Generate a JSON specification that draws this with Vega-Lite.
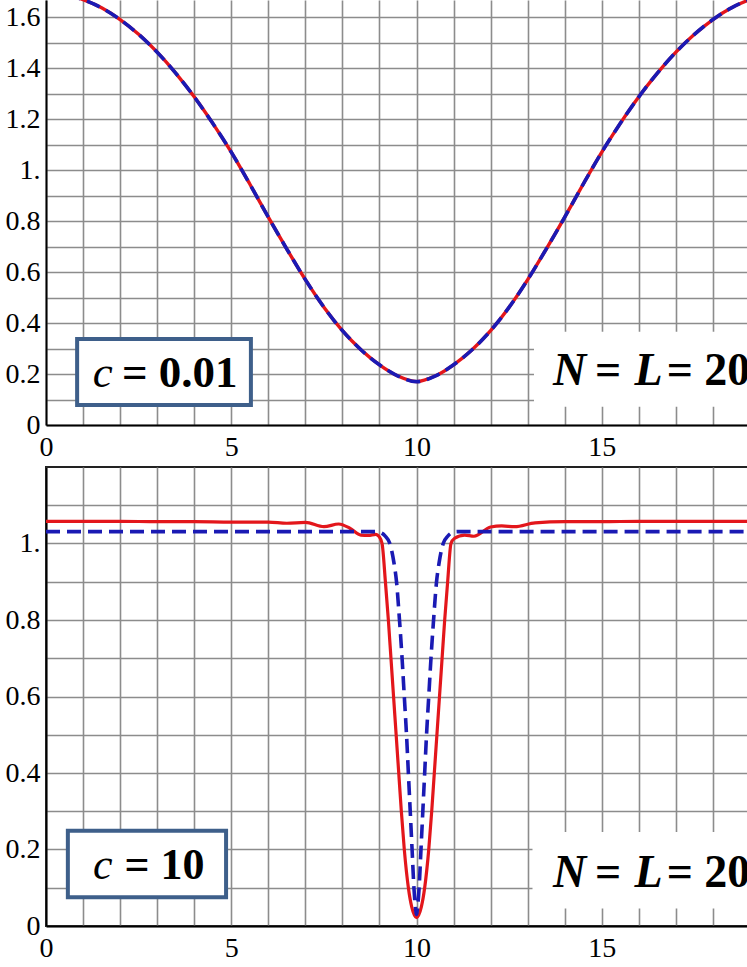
{
  "$schema": "https://vega.github.io/schema/vega-lite/v6.json",
  "padding": {"left": 4, "top": 0, "right": 0, "bottom": 0},
  "background": "white",
  "spacing": 42,
  "bounds": "flush",
  "config": {
    "font": "Liberation Serif",
    "view": {"stroke": null},
    "axis": {"grid": true, "ticks": false, "domain": true, "domainColor": "black", "domainWidth": 2, "gridColor": "#8c8c8c", "gridWidth": 1.6, "labelFont": "Liberation Serif", "labelFontSize": 28, "labelColor": "black", "labelOverlap": false, "labelFlush": false}
  },
  "datasets": {
    "top": [
      {"x": 0, "y": 1.695, "s": "red"}, {"x": 0.5, "y": 1.688, "s": "red"}, {"x": 1, "y": 1.668, "s": "red"}, {"x": 1.5, "y": 1.636, "s": "red"},
      {"x": 2, "y": 1.59, "s": "red"}, {"x": 2.5, "y": 1.532, "s": "red"}, {"x": 3, "y": 1.462, "s": "red"}, {"x": 3.5, "y": 1.38, "s": "red"},
      {"x": 4, "y": 1.287, "s": "red"}, {"x": 4.5, "y": 1.183, "s": "red"}, {"x": 5, "y": 1.07, "s": "red"}, {"x": 5.5, "y": 0.945, "s": "red"},
      {"x": 6, "y": 0.815, "s": "red"}, {"x": 6.5, "y": 0.69, "s": "red"}, {"x": 7, "y": 0.57, "s": "red"}, {"x": 7.5, "y": 0.462, "s": "red"},
      {"x": 8, "y": 0.37, "s": "red"}, {"x": 8.5, "y": 0.295, "s": "red"}, {"x": 9, "y": 0.236, "s": "red"}, {"x": 9.5, "y": 0.192, "s": "red"},
      {"x": 10, "y": 0.17, "s": "red"}, {"x": 10.5, "y": 0.192, "s": "red"}, {"x": 11, "y": 0.236, "s": "red"}, {"x": 11.5, "y": 0.295, "s": "red"},
      {"x": 12, "y": 0.37, "s": "red"}, {"x": 12.5, "y": 0.462, "s": "red"}, {"x": 13, "y": 0.57, "s": "red"}, {"x": 13.5, "y": 0.69, "s": "red"},
      {"x": 14, "y": 0.815, "s": "red"}, {"x": 14.5, "y": 0.945, "s": "red"}, {"x": 15, "y": 1.07, "s": "red"}, {"x": 15.5, "y": 1.183, "s": "red"},
      {"x": 16, "y": 1.287, "s": "red"}, {"x": 16.5, "y": 1.38, "s": "red"}, {"x": 17, "y": 1.462, "s": "red"}, {"x": 17.5, "y": 1.532, "s": "red"},
      {"x": 18, "y": 1.59, "s": "red"}, {"x": 18.5, "y": 1.636, "s": "red"}, {"x": 19, "y": 1.668, "s": "red"}, {"x": 19.5, "y": 1.688, "s": "red"},
      {"x": 20, "y": 1.695, "s": "red"},
      {"x": 0, "y": 1.695, "s": "blue"}, {"x": 0.5, "y": 1.688, "s": "blue"}, {"x": 1, "y": 1.668, "s": "blue"}, {"x": 1.5, "y": 1.636, "s": "blue"},
      {"x": 2, "y": 1.59, "s": "blue"}, {"x": 2.5, "y": 1.532, "s": "blue"}, {"x": 3, "y": 1.462, "s": "blue"}, {"x": 3.5, "y": 1.38, "s": "blue"},
      {"x": 4, "y": 1.287, "s": "blue"}, {"x": 4.5, "y": 1.183, "s": "blue"}, {"x": 5, "y": 1.07, "s": "blue"}, {"x": 5.5, "y": 0.945, "s": "blue"},
      {"x": 6, "y": 0.815, "s": "blue"}, {"x": 6.5, "y": 0.69, "s": "blue"}, {"x": 7, "y": 0.57, "s": "blue"}, {"x": 7.5, "y": 0.462, "s": "blue"},
      {"x": 8, "y": 0.37, "s": "blue"}, {"x": 8.5, "y": 0.295, "s": "blue"}, {"x": 9, "y": 0.236, "s": "blue"}, {"x": 9.5, "y": 0.192, "s": "blue"},
      {"x": 10, "y": 0.17, "s": "blue"}, {"x": 10.5, "y": 0.192, "s": "blue"}, {"x": 11, "y": 0.236, "s": "blue"}, {"x": 11.5, "y": 0.295, "s": "blue"},
      {"x": 12, "y": 0.37, "s": "blue"}, {"x": 12.5, "y": 0.462, "s": "blue"}, {"x": 13, "y": 0.57, "s": "blue"}, {"x": 13.5, "y": 0.69, "s": "blue"},
      {"x": 14, "y": 0.815, "s": "blue"}, {"x": 14.5, "y": 0.945, "s": "blue"}, {"x": 15, "y": 1.07, "s": "blue"}, {"x": 15.5, "y": 1.183, "s": "blue"},
      {"x": 16, "y": 1.287, "s": "blue"}, {"x": 16.5, "y": 1.38, "s": "blue"}, {"x": 17, "y": 1.462, "s": "blue"}, {"x": 17.5, "y": 1.532, "s": "blue"},
      {"x": 18, "y": 1.59, "s": "blue"}, {"x": 18.5, "y": 1.636, "s": "blue"}, {"x": 19, "y": 1.668, "s": "blue"}, {"x": 19.5, "y": 1.688, "s": "blue"},
      {"x": 20, "y": 1.695, "s": "blue"}
    ],
    "bottom": [
      {"x": 0, "y": 1.058, "s": "red"}, {"x": 1, "y": 1.058, "s": "red"}, {"x": 2, "y": 1.058, "s": "red"}, {"x": 3, "y": 1.057, "s": "red"},
      {"x": 4, "y": 1.057, "s": "red"}, {"x": 5, "y": 1.056, "s": "red"}, {"x": 6, "y": 1.056, "s": "red"}, {"x": 6.5, "y": 1.053, "s": "red"},
      {"x": 7, "y": 1.055, "s": "red"}, {"x": 7.5, "y": 1.044, "s": "red"}, {"x": 7.9, "y": 1.051, "s": "red"}, {"x": 8.2, "y": 1.04, "s": "red"},
      {"x": 8.5, "y": 1.022, "s": "red"}, {"x": 8.7, "y": 1.021, "s": "red"}, {"x": 8.9, "y": 1.024, "s": "red"}, {"x": 8.99, "y": 1.018, "s": "red"},
      {"x": 9.07, "y": 1.0, "s": "red"}, {"x": 9.16, "y": 0.9, "s": "red"}, {"x": 9.24, "y": 0.8, "s": "red"}, {"x": 9.31, "y": 0.7, "s": "red"},
      {"x": 9.38, "y": 0.6, "s": "red"}, {"x": 9.45, "y": 0.5, "s": "red"}, {"x": 9.52, "y": 0.4, "s": "red"}, {"x": 9.59, "y": 0.3, "s": "red"},
      {"x": 9.67, "y": 0.2, "s": "red"}, {"x": 9.78, "y": 0.1, "s": "red"}, {"x": 9.87, "y": 0.05, "s": "red"}, {"x": 10, "y": 0.022, "s": "red"},
      {"x": 10.13, "y": 0.05, "s": "red"}, {"x": 10.22, "y": 0.1, "s": "red"}, {"x": 10.33, "y": 0.2, "s": "red"}, {"x": 10.41, "y": 0.3, "s": "red"},
      {"x": 10.48, "y": 0.4, "s": "red"}, {"x": 10.55, "y": 0.5, "s": "red"}, {"x": 10.62, "y": 0.6, "s": "red"}, {"x": 10.69, "y": 0.7, "s": "red"},
      {"x": 10.76, "y": 0.8, "s": "red"}, {"x": 10.84, "y": 0.9, "s": "red"}, {"x": 10.93, "y": 1.0, "s": "red"}, {"x": 11.02, "y": 1.013, "s": "red"},
      {"x": 11.3, "y": 1.022, "s": "red"}, {"x": 11.55, "y": 1.019, "s": "red"}, {"x": 12.0, "y": 1.043, "s": "red"}, {"x": 12.3, "y": 1.046, "s": "red"},
      {"x": 12.65, "y": 1.044, "s": "red"}, {"x": 13.2, "y": 1.054, "s": "red"}, {"x": 14, "y": 1.057, "s": "red"}, {"x": 15, "y": 1.057, "s": "red"},
      {"x": 16, "y": 1.058, "s": "red"}, {"x": 17, "y": 1.058, "s": "red"}, {"x": 18, "y": 1.058, "s": "red"}, {"x": 19, "y": 1.058, "s": "red"},
      {"x": 20, "y": 1.058, "s": "red"},
      {"x": 0, "y": 1.031, "s": "blue"}, {"x": 2, "y": 1.031, "s": "blue"}, {"x": 4, "y": 1.031, "s": "blue"}, {"x": 6, "y": 1.031, "s": "blue"},
      {"x": 8, "y": 1.031, "s": "blue"}, {"x": 8.9, "y": 1.031, "s": "blue"}, {"x": 9.02, "y": 1.029, "s": "blue"}, {"x": 9.15, "y": 1.02, "s": "blue"},
      {"x": 9.28, "y": 1.0, "s": "blue"}, {"x": 9.39, "y": 0.95, "s": "blue"}, {"x": 9.46, "y": 0.9, "s": "blue"}, {"x": 9.54, "y": 0.8, "s": "blue"},
      {"x": 9.61, "y": 0.7, "s": "blue"}, {"x": 9.67, "y": 0.6, "s": "blue"}, {"x": 9.73, "y": 0.5, "s": "blue"}, {"x": 9.78, "y": 0.4, "s": "blue"},
      {"x": 9.83, "y": 0.3, "s": "blue"}, {"x": 9.88, "y": 0.2, "s": "blue"}, {"x": 9.93, "y": 0.1, "s": "blue"}, {"x": 9.97, "y": 0.05, "s": "blue"},
      {"x": 10, "y": 0.03, "s": "blue"}, {"x": 10.03, "y": 0.05, "s": "blue"}, {"x": 10.07, "y": 0.1, "s": "blue"}, {"x": 10.12, "y": 0.2, "s": "blue"},
      {"x": 10.17, "y": 0.3, "s": "blue"}, {"x": 10.22, "y": 0.4, "s": "blue"}, {"x": 10.27, "y": 0.5, "s": "blue"}, {"x": 10.33, "y": 0.6, "s": "blue"},
      {"x": 10.39, "y": 0.7, "s": "blue"}, {"x": 10.46, "y": 0.8, "s": "blue"}, {"x": 10.54, "y": 0.9, "s": "blue"}, {"x": 10.61, "y": 0.95, "s": "blue"},
      {"x": 10.72, "y": 1.0, "s": "blue"}, {"x": 10.85, "y": 1.02, "s": "blue"}, {"x": 10.98, "y": 1.029, "s": "blue"}, {"x": 11.1, "y": 1.031, "s": "blue"},
      {"x": 12, "y": 1.031, "s": "blue"}, {"x": 14, "y": 1.031, "s": "blue"}, {"x": 16, "y": 1.031, "s": "blue"}, {"x": 18, "y": 1.031, "s": "blue"},
      {"x": 20, "y": 1.031, "s": "blue"}
    ]
  },
  "vconcat": [
    {
      "width": 704,
      "height": 425,
      "view": {"stroke": null},
      "data": {"values": [{}]},
      "layer": [
        {
          "mark": {"type": "rect", "fill": "white", "clip": true},
          "encoding": {
            "x": {"datum": 13.17, "type": "quantitative", "scale": {"domain": [0, 19], "nice": false, "zero": false},
              "axis": {"title": null, "labelFont": "Liberation Serif", "labelPadding": 8, "values": [0,1,2,3,4,5,6,7,8,9,10,11,12,13,14,15,16,17,18,19], "labelExpr": "datum.value % 5 == 0 ? datum.label : ''"}},
            "x2": {"datum": 19.5},
            "y": {"datum": 0.072, "type": "quantitative", "scale": {"domain": [0, 1.6667], "nice": false, "zero": false},
              "axis": {"title": null, "labelFont": "Liberation Serif", "labelPadding": 6, "values": [0,0.1,0.2,0.3,0.4,0.5,0.6,0.7,0.8,0.9,1,1.1,1.2,1.3,1.4,1.5,1.6], "labelExpr": "datum.value == 0 ? '0' : datum.value == 1 ? '1.' : (round(datum.value * 10) % 2 == 0 ? format(datum.value, '.1f') : '')"}},
            "y2": {"datum": 0.366}
          }
        },
        {
          "data": {"name": "top"},
          "transform": [{"filter": "datum.s == 'red'"}],
          "mark": {"type": "line", "color": "#e3161b", "strokeWidth": 3.4, "interpolate": "monotone", "clip": true},
          "encoding": {
            "x": {"field": "x", "type": "quantitative", "scale": {"domain": [0, 19], "nice": false, "zero": false},
              "axis": {"title": null, "labelFont": "Liberation Serif", "labelPadding": 8, "values": [0,1,2,3,4,5,6,7,8,9,10,11,12,13,14,15,16,17,18,19], "labelExpr": "datum.value % 5 == 0 ? datum.label : ''"}},
            "y": {"field": "y", "type": "quantitative", "scale": {"domain": [0, 1.6667], "nice": false, "zero": false},
              "axis": {"title": null, "labelFont": "Liberation Serif", "labelPadding": 6, "values": [0,0.1,0.2,0.3,0.4,0.5,0.6,0.7,0.8,0.9,1,1.1,1.2,1.3,1.4,1.5,1.6], "labelExpr": "datum.value == 0 ? '0' : datum.value == 1 ? '1.' : (round(datum.value * 10) % 2 == 0 ? format(datum.value, '.1f') : '')"}}
          }
        },
        {
          "data": {"name": "top"},
          "transform": [{"filter": "datum.s == 'blue'"}],
          "mark": {"type": "line", "color": "#1a1ab4", "strokeWidth": 3.6, "strokeDash": [14, 7], "interpolate": "monotone", "clip": true},
          "encoding": {
            "x": {"field": "x", "type": "quantitative", "scale": {"domain": [0, 19], "nice": false, "zero": false},
              "axis": {"title": null, "labelFont": "Liberation Serif", "labelPadding": 8, "values": [0,1,2,3,4,5,6,7,8,9,10,11,12,13,14,15,16,17,18,19], "labelExpr": "datum.value % 5 == 0 ? datum.label : ''"}},
            "y": {"field": "y", "type": "quantitative", "scale": {"domain": [0, 1.6667], "nice": false, "zero": false},
              "axis": {"title": null, "labelFont": "Liberation Serif", "labelPadding": 6, "values": [0,0.1,0.2,0.3,0.4,0.5,0.6,0.7,0.8,0.9,1,1.1,1.2,1.3,1.4,1.5,1.6], "labelExpr": "datum.value == 0 ? '0' : datum.value == 1 ? '1.' : (round(datum.value * 10) % 2 == 0 ? format(datum.value, '.1f') : '')"}}
          }
        },
        {
          "mark": {"type": "rect", "fill": "white", "stroke": "#3e5f8a", "strokeWidth": 4, "clip": true},
          "encoding": {
            "x": {"datum": 0.84, "type": "quantitative", "scale": {"domain": [0, 19], "nice": false, "zero": false},
              "axis": {"title": null, "labelFont": "Liberation Serif", "labelPadding": 8, "values": [0,1,2,3,4,5,6,7,8,9,10,11,12,13,14,15,16,17,18,19], "labelExpr": "datum.value % 5 == 0 ? datum.label : ''"}},
            "x2": {"datum": 5.53},
            "y": {"datum": 0.078, "type": "quantitative", "scale": {"domain": [0, 1.6667], "nice": false, "zero": false},
              "axis": {"title": null, "labelFont": "Liberation Serif", "labelPadding": 6, "values": [0,0.1,0.2,0.3,0.4,0.5,0.6,0.7,0.8,0.9,1,1.1,1.2,1.3,1.4,1.5,1.6], "labelExpr": "datum.value == 0 ? '0' : datum.value == 1 ? '1.' : (round(datum.value * 10) % 2 == 0 ? format(datum.value, '.1f') : '')"}},
            "y2": {"datum": 0.337}
          }
        },
        {
          "mark": {"type": "text", "text": "c", "font": "Liberation Serif", "fontSize": 45, "fontStyle": "italic", "align": "left", "baseline": "alphabetic", "color": "black", "clip": true},
          "encoding": {
            "x": {"datum": 1.26, "type": "quantitative", "scale": {"domain": [0, 19], "nice": false, "zero": false},
              "axis": {"title": null, "labelFont": "Liberation Serif", "labelPadding": 8, "values": [0,1,2,3,4,5,6,7,8,9,10,11,12,13,14,15,16,17,18,19], "labelExpr": "datum.value % 5 == 0 ? datum.label : ''"}},
            "y": {"datum": 0.148, "type": "quantitative", "scale": {"domain": [0, 1.6667], "nice": false, "zero": false},
              "axis": {"title": null, "labelFont": "Liberation Serif", "labelPadding": 6, "values": [0,0.1,0.2,0.3,0.4,0.5,0.6,0.7,0.8,0.9,1,1.1,1.2,1.3,1.4,1.5,1.6], "labelExpr": "datum.value == 0 ? '0' : datum.value == 1 ? '1.' : (round(datum.value * 10) % 2 == 0 ? format(datum.value, '.1f') : '')"}}
          }
        },
        {
          "mark": {"type": "text", "text": "= 0.01", "font": "Liberation Serif", "fontSize": 45, "fontWeight": "bold", "align": "left", "baseline": "alphabetic", "color": "black", "clip": true},
          "encoding": {
            "x": {"datum": 2.05, "type": "quantitative", "scale": {"domain": [0, 19], "nice": false, "zero": false},
              "axis": {"title": null, "labelFont": "Liberation Serif", "labelPadding": 8, "values": [0,1,2,3,4,5,6,7,8,9,10,11,12,13,14,15,16,17,18,19], "labelExpr": "datum.value % 5 == 0 ? datum.label : ''"}},
            "y": {"datum": 0.148, "type": "quantitative", "scale": {"domain": [0, 1.6667], "nice": false, "zero": false},
              "axis": {"title": null, "labelFont": "Liberation Serif", "labelPadding": 6, "values": [0,0.1,0.2,0.3,0.4,0.5,0.6,0.7,0.8,0.9,1,1.1,1.2,1.3,1.4,1.5,1.6], "labelExpr": "datum.value == 0 ? '0' : datum.value == 1 ? '1.' : (round(datum.value * 10) % 2 == 0 ? format(datum.value, '.1f') : '')"}}
          }
        },
        {
          "mark": {"type": "text", "text": "N", "font": "Liberation Serif", "fontSize": 46, "fontWeight": "bold", "fontStyle": "italic", "align": "left", "baseline": "alphabetic", "color": "black", "clip": true},
          "encoding": {
            "x": {"datum": 13.68, "type": "quantitative", "scale": {"domain": [0, 19], "nice": false, "zero": false},
              "axis": {"title": null, "labelFont": "Liberation Serif", "labelPadding": 8, "values": [0,1,2,3,4,5,6,7,8,9,10,11,12,13,14,15,16,17,18,19], "labelExpr": "datum.value % 5 == 0 ? datum.label : ''"}},
            "y": {"datum": 0.157, "type": "quantitative", "scale": {"domain": [0, 1.6667], "nice": false, "zero": false},
              "axis": {"title": null, "labelFont": "Liberation Serif", "labelPadding": 6, "values": [0,0.1,0.2,0.3,0.4,0.5,0.6,0.7,0.8,0.9,1,1.1,1.2,1.3,1.4,1.5,1.6], "labelExpr": "datum.value == 0 ? '0' : datum.value == 1 ? '1.' : (round(datum.value * 10) % 2 == 0 ? format(datum.value, '.1f') : '')"}}
          }
        },
        {
          "mark": {"type": "text", "text": "=", "font": "Liberation Serif", "fontSize": 46, "fontWeight": "bold", "align": "left", "baseline": "alphabetic", "color": "black", "clip": true},
          "encoding": {
            "x": {"datum": 14.82, "type": "quantitative", "scale": {"domain": [0, 19], "nice": false, "zero": false},
              "axis": {"title": null, "labelFont": "Liberation Serif", "labelPadding": 8, "values": [0,1,2,3,4,5,6,7,8,9,10,11,12,13,14,15,16,17,18,19], "labelExpr": "datum.value % 5 == 0 ? datum.label : ''"}},
            "y": {"datum": 0.157, "type": "quantitative", "scale": {"domain": [0, 1.6667], "nice": false, "zero": false},
              "axis": {"title": null, "labelFont": "Liberation Serif", "labelPadding": 6, "values": [0,0.1,0.2,0.3,0.4,0.5,0.6,0.7,0.8,0.9,1,1.1,1.2,1.3,1.4,1.5,1.6], "labelExpr": "datum.value == 0 ? '0' : datum.value == 1 ? '1.' : (round(datum.value * 10) % 2 == 0 ? format(datum.value, '.1f') : '')"}}
          }
        },
        {
          "mark": {"type": "text", "text": "L", "font": "Liberation Serif", "fontSize": 46, "fontWeight": "bold", "fontStyle": "italic", "align": "left", "baseline": "alphabetic", "color": "black", "clip": true},
          "encoding": {
            "x": {"datum": 15.88, "type": "quantitative", "scale": {"domain": [0, 19], "nice": false, "zero": false},
              "axis": {"title": null, "labelFont": "Liberation Serif", "labelPadding": 8, "values": [0,1,2,3,4,5,6,7,8,9,10,11,12,13,14,15,16,17,18,19], "labelExpr": "datum.value % 5 == 0 ? datum.label : ''"}},
            "y": {"datum": 0.157, "type": "quantitative", "scale": {"domain": [0, 1.6667], "nice": false, "zero": false},
              "axis": {"title": null, "labelFont": "Liberation Serif", "labelPadding": 6, "values": [0,0.1,0.2,0.3,0.4,0.5,0.6,0.7,0.8,0.9,1,1.1,1.2,1.3,1.4,1.5,1.6], "labelExpr": "datum.value == 0 ? '0' : datum.value == 1 ? '1.' : (round(datum.value * 10) % 2 == 0 ? format(datum.value, '.1f') : '')"}}
          }
        },
        {
          "mark": {"type": "text", "text": "= 20", "font": "Liberation Serif", "fontSize": 46, "fontWeight": "bold", "align": "left", "baseline": "alphabetic", "color": "black", "clip": true},
          "encoding": {
            "x": {"datum": 16.75, "type": "quantitative", "scale": {"domain": [0, 19], "nice": false, "zero": false},
              "axis": {"title": null, "labelFont": "Liberation Serif", "labelPadding": 8, "values": [0,1,2,3,4,5,6,7,8,9,10,11,12,13,14,15,16,17,18,19], "labelExpr": "datum.value % 5 == 0 ? datum.label : ''"}},
            "y": {"datum": 0.157, "type": "quantitative", "scale": {"domain": [0, 1.6667], "nice": false, "zero": false},
              "axis": {"title": null, "labelFont": "Liberation Serif", "labelPadding": 6, "values": [0,0.1,0.2,0.3,0.4,0.5,0.6,0.7,0.8,0.9,1,1.1,1.2,1.3,1.4,1.5,1.6], "labelExpr": "datum.value == 0 ? '0' : datum.value == 1 ? '1.' : (round(datum.value * 10) % 2 == 0 ? format(datum.value, '.1f') : '')"}}
          }
        }
      ]
    },
    {
      "width": 704,
      "height": 459,
      "view": {"stroke": "#222222", "strokeWidth": 2},
      "data": {"values": [{}]},
      "layer": [
        {
          "mark": {"type": "rect", "fill": "white", "clip": true},
          "encoding": {
            "x": {"datum": 13.13, "type": "quantitative", "scale": {"domain": [0, 19], "nice": false, "zero": false},
              "axis": {"title": null, "labelFont": "Liberation Serif", "labelPadding": 8, "values": [0,1,2,3,4,5,6,7,8,9,10,11,12,13,14,15,16,17,18,19], "labelExpr": "datum.value % 5 == 0 ? datum.label : ''"}},
            "x2": {"datum": 19.5},
            "y": {"datum": 0.046, "type": "quantitative", "scale": {"domain": [0, 1.2], "nice": false, "zero": false},
              "axis": {"title": null, "labelFont": "Liberation Serif", "labelPadding": 6, "values": [0,0.1,0.2,0.3,0.4,0.5,0.6,0.7,0.8,0.9,1,1.1], "labelExpr": "datum.value == 0 ? '0' : datum.value == 1 ? '1.' : (round(datum.value * 10) % 2 == 0 ? format(datum.value, '.1f') : '')"}},
            "y2": {"datum": 0.246}
          }
        },
        {
          "data": {"name": "bottom"},
          "transform": [{"filter": "datum.s == 'red'"}],
          "mark": {"type": "line", "color": "#e3161b", "strokeWidth": 3.2, "interpolate": "monotone", "clip": true},
          "encoding": {
            "x": {"field": "x", "type": "quantitative", "scale": {"domain": [0, 19], "nice": false, "zero": false},
              "axis": {"title": null, "labelFont": "Liberation Serif", "labelPadding": 8, "values": [0,1,2,3,4,5,6,7,8,9,10,11,12,13,14,15,16,17,18,19], "labelExpr": "datum.value % 5 == 0 ? datum.label : ''"}},
            "y": {"field": "y", "type": "quantitative", "scale": {"domain": [0, 1.2], "nice": false, "zero": false},
              "axis": {"title": null, "labelFont": "Liberation Serif", "labelPadding": 6, "values": [0,0.1,0.2,0.3,0.4,0.5,0.6,0.7,0.8,0.9,1,1.1], "labelExpr": "datum.value == 0 ? '0' : datum.value == 1 ? '1.' : (round(datum.value * 10) % 2 == 0 ? format(datum.value, '.1f') : '')"}}
          }
        },
        {
          "data": {"name": "bottom"},
          "transform": [{"filter": "datum.s == 'blue'"}],
          "mark": {"type": "line", "color": "#1a1ab4", "strokeWidth": 3.6, "strokeDash": [14, 7], "interpolate": "monotone", "clip": true},
          "encoding": {
            "x": {"field": "x", "type": "quantitative", "scale": {"domain": [0, 19], "nice": false, "zero": false},
              "axis": {"title": null, "labelFont": "Liberation Serif", "labelPadding": 8, "values": [0,1,2,3,4,5,6,7,8,9,10,11,12,13,14,15,16,17,18,19], "labelExpr": "datum.value % 5 == 0 ? datum.label : ''"}},
            "y": {"field": "y", "type": "quantitative", "scale": {"domain": [0, 1.2], "nice": false, "zero": false},
              "axis": {"title": null, "labelFont": "Liberation Serif", "labelPadding": 6, "values": [0,0.1,0.2,0.3,0.4,0.5,0.6,0.7,0.8,0.9,1,1.1], "labelExpr": "datum.value == 0 ? '0' : datum.value == 1 ? '1.' : (round(datum.value * 10) % 2 == 0 ? format(datum.value, '.1f') : '')"}}
          }
        },
        {
          "mark": {"type": "rect", "fill": "white", "stroke": "#3e5f8a", "strokeWidth": 4, "clip": true},
          "encoding": {
            "x": {"datum": 0.59, "type": "quantitative", "scale": {"domain": [0, 19], "nice": false, "zero": false},
              "axis": {"title": null, "labelFont": "Liberation Serif", "labelPadding": 8, "values": [0,1,2,3,4,5,6,7,8,9,10,11,12,13,14,15,16,17,18,19], "labelExpr": "datum.value % 5 == 0 ? datum.label : ''"}},
            "x2": {"datum": 4.86},
            "y": {"datum": 0.075, "type": "quantitative", "scale": {"domain": [0, 1.2], "nice": false, "zero": false},
              "axis": {"title": null, "labelFont": "Liberation Serif", "labelPadding": 6, "values": [0,0.1,0.2,0.3,0.4,0.5,0.6,0.7,0.8,0.9,1,1.1], "labelExpr": "datum.value == 0 ? '0' : datum.value == 1 ? '1.' : (round(datum.value * 10) % 2 == 0 ? format(datum.value, '.1f') : '')"}},
            "y2": {"datum": 0.249}
          }
        },
        {
          "mark": {"type": "text", "text": "c", "font": "Liberation Serif", "fontSize": 44, "fontStyle": "italic", "align": "left", "baseline": "alphabetic", "color": "black", "clip": true},
          "encoding": {
            "x": {"datum": 1.27, "type": "quantitative", "scale": {"domain": [0, 19], "nice": false, "zero": false},
              "axis": {"title": null, "labelFont": "Liberation Serif", "labelPadding": 8, "values": [0,1,2,3,4,5,6,7,8,9,10,11,12,13,14,15,16,17,18,19], "labelExpr": "datum.value % 5 == 0 ? datum.label : ''"}},
            "y": {"datum": 0.122, "type": "quantitative", "scale": {"domain": [0, 1.2], "nice": false, "zero": false},
              "axis": {"title": null, "labelFont": "Liberation Serif", "labelPadding": 6, "values": [0,0.1,0.2,0.3,0.4,0.5,0.6,0.7,0.8,0.9,1,1.1], "labelExpr": "datum.value == 0 ? '0' : datum.value == 1 ? '1.' : (round(datum.value * 10) % 2 == 0 ? format(datum.value, '.1f') : '')"}}
          }
        },
        {
          "mark": {"type": "text", "text": "= 10", "font": "Liberation Serif", "fontSize": 44, "fontWeight": "bold", "align": "left", "baseline": "alphabetic", "color": "black", "clip": true},
          "encoding": {
            "x": {"datum": 2.12, "type": "quantitative", "scale": {"domain": [0, 19], "nice": false, "zero": false},
              "axis": {"title": null, "labelFont": "Liberation Serif", "labelPadding": 8, "values": [0,1,2,3,4,5,6,7,8,9,10,11,12,13,14,15,16,17,18,19], "labelExpr": "datum.value % 5 == 0 ? datum.label : ''"}},
            "y": {"datum": 0.122, "type": "quantitative", "scale": {"domain": [0, 1.2], "nice": false, "zero": false},
              "axis": {"title": null, "labelFont": "Liberation Serif", "labelPadding": 6, "values": [0,0.1,0.2,0.3,0.4,0.5,0.6,0.7,0.8,0.9,1,1.1], "labelExpr": "datum.value == 0 ? '0' : datum.value == 1 ? '1.' : (round(datum.value * 10) % 2 == 0 ? format(datum.value, '.1f') : '')"}}
          }
        },
        {
          "mark": {"type": "text", "text": "N", "font": "Liberation Serif", "fontSize": 46, "fontWeight": "bold", "fontStyle": "italic", "align": "left", "baseline": "alphabetic", "color": "black", "clip": true},
          "encoding": {
            "x": {"datum": 13.68, "type": "quantitative", "scale": {"domain": [0, 19], "nice": false, "zero": false},
              "axis": {"title": null, "labelFont": "Liberation Serif", "labelPadding": 8, "values": [0,1,2,3,4,5,6,7,8,9,10,11,12,13,14,15,16,17,18,19], "labelExpr": "datum.value % 5 == 0 ? datum.label : ''"}},
            "y": {"datum": 0.103, "type": "quantitative", "scale": {"domain": [0, 1.2], "nice": false, "zero": false},
              "axis": {"title": null, "labelFont": "Liberation Serif", "labelPadding": 6, "values": [0,0.1,0.2,0.3,0.4,0.5,0.6,0.7,0.8,0.9,1,1.1], "labelExpr": "datum.value == 0 ? '0' : datum.value == 1 ? '1.' : (round(datum.value * 10) % 2 == 0 ? format(datum.value, '.1f') : '')"}}
          }
        },
        {
          "mark": {"type": "text", "text": "=", "font": "Liberation Serif", "fontSize": 46, "fontWeight": "bold", "align": "left", "baseline": "alphabetic", "color": "black", "clip": true},
          "encoding": {
            "x": {"datum": 14.82, "type": "quantitative", "scale": {"domain": [0, 19], "nice": false, "zero": false},
              "axis": {"title": null, "labelFont": "Liberation Serif", "labelPadding": 8, "values": [0,1,2,3,4,5,6,7,8,9,10,11,12,13,14,15,16,17,18,19], "labelExpr": "datum.value % 5 == 0 ? datum.label : ''"}},
            "y": {"datum": 0.103, "type": "quantitative", "scale": {"domain": [0, 1.2], "nice": false, "zero": false},
              "axis": {"title": null, "labelFont": "Liberation Serif", "labelPadding": 6, "values": [0,0.1,0.2,0.3,0.4,0.5,0.6,0.7,0.8,0.9,1,1.1], "labelExpr": "datum.value == 0 ? '0' : datum.value == 1 ? '1.' : (round(datum.value * 10) % 2 == 0 ? format(datum.value, '.1f') : '')"}}
          }
        },
        {
          "mark": {"type": "text", "text": "L", "font": "Liberation Serif", "fontSize": 46, "fontWeight": "bold", "fontStyle": "italic", "align": "left", "baseline": "alphabetic", "color": "black", "clip": true},
          "encoding": {
            "x": {"datum": 15.88, "type": "quantitative", "scale": {"domain": [0, 19], "nice": false, "zero": false},
              "axis": {"title": null, "labelFont": "Liberation Serif", "labelPadding": 8, "values": [0,1,2,3,4,5,6,7,8,9,10,11,12,13,14,15,16,17,18,19], "labelExpr": "datum.value % 5 == 0 ? datum.label : ''"}},
            "y": {"datum": 0.103, "type": "quantitative", "scale": {"domain": [0, 1.2], "nice": false, "zero": false},
              "axis": {"title": null, "labelFont": "Liberation Serif", "labelPadding": 6, "values": [0,0.1,0.2,0.3,0.4,0.5,0.6,0.7,0.8,0.9,1,1.1], "labelExpr": "datum.value == 0 ? '0' : datum.value == 1 ? '1.' : (round(datum.value * 10) % 2 == 0 ? format(datum.value, '.1f') : '')"}}
          }
        },
        {
          "mark": {"type": "text", "text": "= 20", "font": "Liberation Serif", "fontSize": 46, "fontWeight": "bold", "align": "left", "baseline": "alphabetic", "color": "black", "clip": true},
          "encoding": {
            "x": {"datum": 16.75, "type": "quantitative", "scale": {"domain": [0, 19], "nice": false, "zero": false},
              "axis": {"title": null, "labelFont": "Liberation Serif", "labelPadding": 8, "values": [0,1,2,3,4,5,6,7,8,9,10,11,12,13,14,15,16,17,18,19], "labelExpr": "datum.value % 5 == 0 ? datum.label : ''"}},
            "y": {"datum": 0.103, "type": "quantitative", "scale": {"domain": [0, 1.2], "nice": false, "zero": false},
              "axis": {"title": null, "labelFont": "Liberation Serif", "labelPadding": 6, "values": [0,0.1,0.2,0.3,0.4,0.5,0.6,0.7,0.8,0.9,1,1.1], "labelExpr": "datum.value == 0 ? '0' : datum.value == 1 ? '1.' : (round(datum.value * 10) % 2 == 0 ? format(datum.value, '.1f') : '')"}}
          }
        }
      ]
    }
  ]
}
